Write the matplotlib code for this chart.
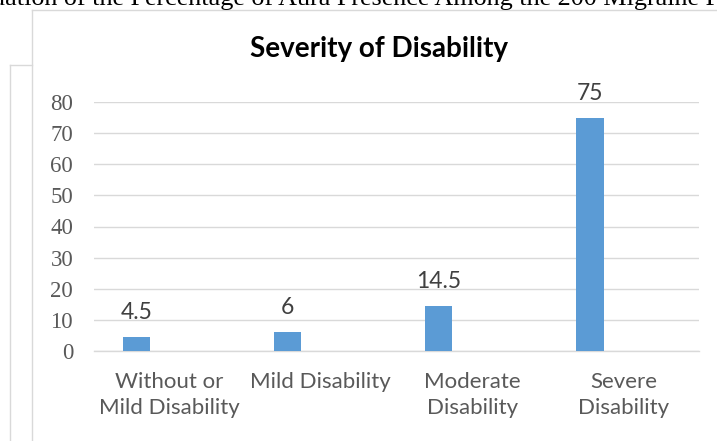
import matplotlib

matplotlib.use("Agg")
import matplotlib.pyplot as plt
from matplotlib.lines import Line2D

# chart data
categories = [
    "Without or\nMild Disability",
    "Mild Disability",
    "Moderate\nDisability",
    "Severe\nDisability",
]
values = [4.5, 6, 14.5, 75]
value_labels = ["4.5", "6", "14.5", "75"]
y_ticks = [0, 10, 20, 30, 40, 50, 60, 70, 80]
title = "Severity of Disability"
caption = "uation of the Percentage of Aura Presence Among the 200 Migraine Patients"

W, H = 717, 441
DPI = 100
BAR_COLOR = "#5b9bd5"
GRID_COLOR = "#d9d9d9"
TEXT_COLOR = "#595959"
SANS = "Lato"
SERIF = "Liberation Serif"


def fx(px):
    return px / W


def fy(py):
    return 1 - py / H


fig = plt.figure(figsize=(W / DPI, H / DPI), dpi=DPI, facecolor="white")

# page caption cut by the screenshot
fig.text(fx(-8), fy(5.5), caption, family=SERIF, fontsize=18.8,
         color="black", va="baseline", ha="left")

# frame lines of the document/chart area
frame_kw = dict(color=GRID_COLOR, linewidth=1.0, transform=fig.transFigure)
fig.add_artist(Line2D([fx(32), fx(32)], [fy(10), fy(441)], **frame_kw))
fig.add_artist(Line2D([fx(32), fx(717)], [fy(10), fy(10)], **frame_kw))
fig.add_artist(Line2D([fx(10), fx(10)], [fy(65), fy(441)], **frame_kw))
fig.add_artist(Line2D([fx(10), fx(32)], [fy(65), fy(65)], **frame_kw))

# plot area
ax = fig.add_axes([fx(94), fy(351), fx(699) - fx(94), fy(102) - fy(351)])
x = list(range(len(categories)))
bar_x = [i - 0.22 for i in x]
ax.bar(bar_x, values, width=0.18, color=BAR_COLOR, zorder=3)

for bx, v, lab in zip(bar_x, values, value_labels):
    ax.annotate(lab, (bx, v), xytext=(0, 13), textcoords="offset points",
                ha="center", va="baseline", family=SANS, fontsize=16.5,
                color="#404040")

ax.set_xlim(-0.5, 3.5)
ax.set_ylim(0, 80)
ax.set_yticks(y_ticks)
ax.set_yticklabels([str(t) for t in y_ticks], family=SERIF, fontsize=16.5,
                   color=TEXT_COLOR)
ax.set_xticks(x)
ax.set_xticklabels(categories, family=SANS, fontsize=16, color=TEXT_COLOR,
                   linespacing=1.4)
ax.tick_params(axis="both", length=0)
ax.tick_params(axis="y", pad=15)
ax.tick_params(axis="x", pad=15)
ax.yaxis.grid(True, color=GRID_COLOR, linewidth=1.0, zorder=0)
ax.set_axisbelow(True)
for side in ["top", "right", "left"]:
    ax.spines[side].set_visible(False)
ax.spines["bottom"].set_color(GRID_COLOR)
ax.spines["bottom"].set_linewidth(1.0)

fig.text(fx(379), fy(57), title, family=SANS, fontweight="bold", fontsize=20,
         color="black", ha="center", va="baseline")

fig.savefig("out.png", dpi=DPI, facecolor="white")
